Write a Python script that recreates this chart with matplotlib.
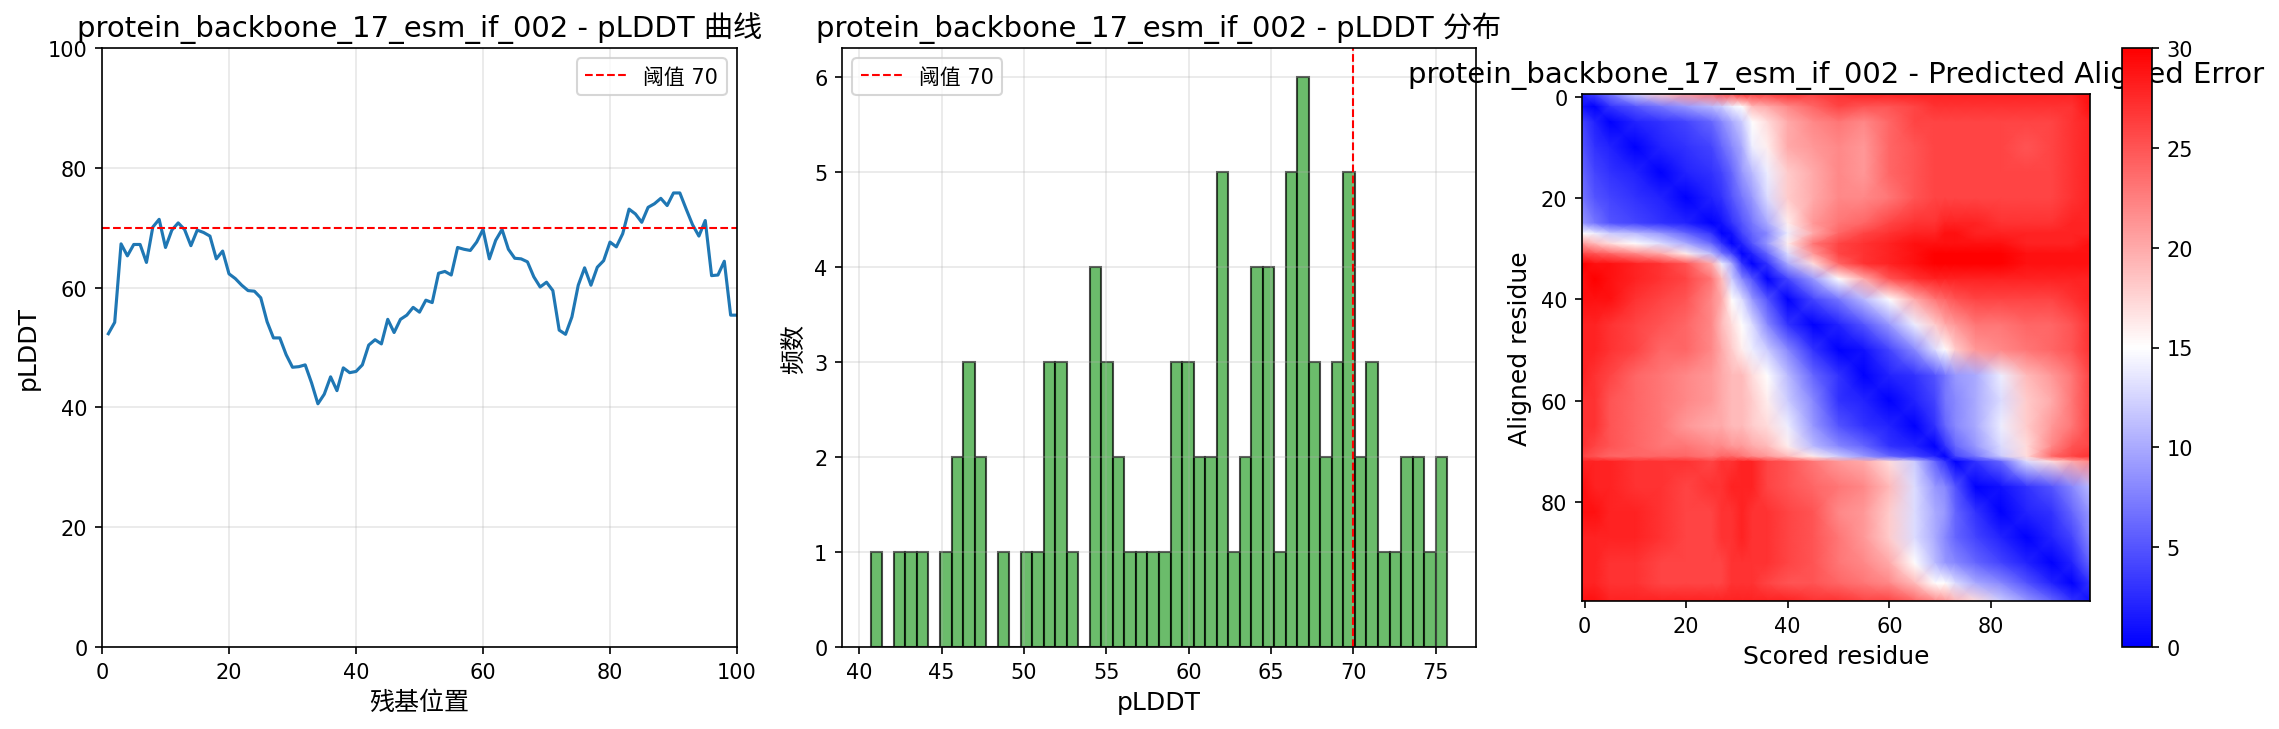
import matplotlib
matplotlib.use("Agg")
import matplotlib.pyplot as plt
import numpy as np

plt.rcParams['font.family'] = ['DejaVu Sans', 'Noto Sans CJK SC']

name = "protein_backbone_17_esm_if_002"
threshold = 70

# pLDDT per residue
residues = list(range(1, 101))
plddt = [52.3, 54.2, 67.3, 65.3, 67.2, 67.2, 64.2, 70.1, 71.4, 66.7,
         69.6, 70.8, 69.7, 67.0, 69.6, 69.2, 68.6, 64.8, 66.1, 62.3,
         61.5, 60.4, 59.5, 59.4, 58.3, 54.3, 51.6, 51.6, 48.8, 46.7,
         46.8, 47.1, 44.1, 40.6, 42.2, 45.1, 42.8, 46.6, 45.8, 46.0,
         47.1, 50.4, 51.3, 50.6, 54.7, 52.5, 54.7, 55.4, 56.7, 55.9,
         57.9, 57.5, 62.4, 62.7, 62.1, 66.7, 66.4, 66.2, 67.6, 69.7,
         64.8, 67.9, 69.7, 66.4, 64.9, 64.8, 64.3, 61.8, 60.1, 60.9,
         59.5, 52.9, 52.2, 55.1, 60.4, 63.3, 60.4, 63.4, 64.5, 67.6,
         66.8, 69.0, 73.1, 72.3, 70.9, 73.4, 74.0, 74.9, 73.7, 75.8,
         75.8, 73.1, 70.5, 68.6, 71.2, 62.0, 62.1, 64.4, 55.4, 55.4]

# histogram of the middle panel
hist_start = 40.7
hist_width = 0.7
hist_counts = [1, 0, 1, 1, 1, 0, 1, 2, 3, 2,
               0, 1, 0, 1, 1, 3, 3, 1, 0, 4,
               3, 2, 1, 1, 1, 1, 3, 3, 2, 2,
               5, 1, 2, 4, 4, 1, 5, 6, 3, 2,
               3, 5, 2, 3, 1, 1, 2, 2, 1, 2]

# PAE read at these residues, denser around the domain borders
pae_cols = [-0.5, 2, 5, 10, 15, 20, 25, 27, 29, 31, 33, 36, 40, 45,
            50, 55, 60, 65, 69, 71, 73, 77, 82, 87, 92, 96, 99.5]
pae_rows = [-0.5, 2, 5, 10, 15, 20, 25, 27, 29, 31, 33, 36, 40, 45,
            50, 55, 60, 65, 69, 71, 72, 77, 82, 87, 92, 96, 99.5]
pae = [
    [2, 4, 7, 12, 18, 21, 23, 25, 25, 27, 26, 26, 27, 26, 27, 28, 28, 28, 28, 28, 28, 28, 28, 28, 28, 28, 29],
    [1, 0, 3, 5, 7, 9, 11, 12, 14, 15, 19, 20, 22, 24, 26, 25, 25, 26, 27, 27, 27, 27, 27, 27, 27, 27, 29],
    [4, 2, 0, 2, 3, 4, 6, 8, 10, 12, 15, 17, 20, 22, 23, 22, 24, 26, 26, 26, 26, 26, 26, 26, 26, 27, 28],
    [5, 3, 2, 0, 2, 3, 4, 6, 8, 10, 14, 16, 20, 21, 22, 21, 24, 25, 26, 26, 26, 26, 26, 25, 26, 27, 28],
    [6, 4, 3, 2, 0, 2, 3, 4, 6, 9, 11, 14, 18, 20, 22, 21, 24, 25, 26, 26, 26, 26, 26, 26, 26, 27, 28],
    [7, 5, 4, 3, 2, 0, 2, 3, 5, 7, 9, 13, 18, 20, 22, 22, 23, 25, 26, 26, 26, 26, 26, 26, 26, 27, 28],
    [9, 7, 5, 4, 3, 2, 0, 1, 3, 5, 7, 10, 16, 21, 23, 24, 26, 27, 27, 28, 28, 28, 27, 27, 27, 28, 28],
    [15, 14, 12, 11, 9, 6, 3, 0, 1, 4, 6, 8, 14, 20, 24, 26, 27, 28, 28, 29, 29, 28, 28, 28, 28, 28, 28],
    [21, 19, 17, 15, 13, 10, 6, 3, 0, 2, 5, 9, 16, 23, 26, 27, 28, 29, 29, 29, 29, 29, 29, 28, 28, 28, 29],
    [26, 25, 24, 22, 20, 16, 11, 7, 4, 0, 2, 6, 13, 21, 26, 27, 28, 29, 30, 30, 30, 30, 30, 29, 29, 29, 29],
    [30, 29, 29, 28, 27, 25, 20, 14, 10, 3, 0, 3, 10, 17, 24, 27, 28, 29, 30, 30, 30, 30, 30, 29, 29, 29, 29],
    [29, 30, 29, 28, 27, 26, 23, 19, 12, 8, 5, 0, 4, 9, 15, 20, 25, 27, 28, 28, 28, 28, 28, 28, 28, 28, 28],
    [29, 29, 29, 27, 26, 25, 22, 20, 15, 13, 9, 5, 0, 4, 7, 11, 15, 20, 23, 24, 25, 26, 26, 26, 26, 27, 28],
    [28, 28, 27, 26, 25, 24, 22, 19, 17, 15, 13, 8, 3, 0, 2, 5, 9, 14, 18, 20, 21, 23, 23, 24, 24, 25, 27],
    [28, 28, 27, 26, 24, 24, 22, 20, 18, 16, 14, 12, 8, 3, 0, 1, 4, 8, 13, 15, 18, 21, 22, 23, 24, 25, 27],
    [28, 27, 26, 24, 23, 22, 21, 20, 19, 19, 17, 15, 11, 6, 3, 0, 2, 3, 5, 7, 9, 10, 14, 19, 21, 23, 26],
    [27, 27, 25, 24, 23, 22, 21, 20, 19, 19, 18, 16, 12, 8, 3, 2, 0, 2, 4, 7, 8, 10, 13, 18, 20, 23, 26],
    [27, 27, 25, 24, 23, 21, 20, 20, 19, 19, 18, 17, 14, 9, 5, 3, 2, 0, 3, 6, 8, 10, 14, 18, 21, 23, 26],
    [27, 26, 25, 24, 23, 23, 22, 22, 21, 21, 20, 19, 16, 11, 8, 6, 3, 2, 0, 3, 6, 9, 13, 17, 22, 25, 26],
    [26, 25, 24, 24, 24, 24, 23, 24, 24, 23, 22, 21, 19, 16, 12, 9, 6, 4, 2, 0, 4, 7, 12, 17, 24, 26, 27],
    [28, 28, 28, 27, 27, 27, 26, 27, 27, 28, 28, 26, 25, 23, 21, 20, 17, 12, 6, 3, 0, 3, 6, 13, 17, 20, 22],
    [29, 28, 28, 27, 27, 26, 27, 27, 28, 28, 28, 26, 25, 24, 23, 22, 19, 13, 9, 8, 5, 0, 1, 3, 5, 8, 11],
    [29, 29, 28, 28, 27, 26, 26, 27, 27, 28, 27, 27, 26, 25, 22, 21, 18, 13, 10, 9, 6, 3, 0, 2, 3, 6, 9],
    [28, 28, 28, 28, 27, 26, 26, 27, 27, 28, 27, 27, 26, 25, 23, 21, 18, 13, 10, 8, 6, 4, 2, 0, 2, 4, 8],
    [28, 28, 27, 27, 26, 26, 26, 26, 27, 27, 27, 27, 26, 25, 23, 22, 20, 15, 11, 9, 8, 6, 4, 2, 0, 2, 6],
    [28, 28, 27, 27, 26, 26, 26, 26, 27, 27, 27, 26, 25, 25, 24, 23, 22, 19, 15, 15, 13, 10, 8, 5, 2, 0, 3],
    [29, 29, 28, 28, 28, 28, 28, 28, 28, 28, 28, 28, 28, 27, 27, 26, 26, 24, 22, 21, 19, 17, 12, 9, 6, 3, 1],
]

W, H = 2279, 730
fig = plt.figure(figsize=(W / 150, H / 150), dpi=150)


def box(x0, y0, x1, y1):
    # pixel box (from top left) to figure fractions
    return [x0 / W, 1 - y1 / H, (x1 - x0) / W, (y1 - y0) / H]


# line plot
ax1 = fig.add_axes(box(102, 49, 737, 648))
ax1.plot(residues, plddt)
ax1.axhline(threshold, color="red", linestyle="--", linewidth=1, label="阈值 70")
ax1.set_xlim(0, 100)
ax1.set_ylim(0, 100)
ax1.set_xlabel("残基位置", fontsize=12)
ax1.set_ylabel("pLDDT", fontsize=12)
ax1.set_title(name + " - pLDDT 曲线", fontsize=14)
ax1.grid(True, alpha=0.3)
ax1.legend(loc="upper right")

# histogram
ax2 = fig.add_axes(box(842, 49, 1476, 648))
edges = hist_start + hist_width * np.arange(len(hist_counts))
ax2.bar(edges, hist_counts, width=hist_width, align="edge", color="tab:green",
        alpha=0.7, edgecolor="black")
ax2.axvline(threshold, color="red", linestyle="--", linewidth=1, label="阈值 70")
ax2.set_xlabel("pLDDT", fontsize=12)
ax2.set_ylabel("频数", fontsize=12)
ax2.set_title(name + " - pLDDT 分布", fontsize=14)
ax2.grid(True, alpha=0.3)
ax2.legend(loc="upper left")

# PAE heatmap
ax3 = fig.add_axes(box(1582, 95, 2090, 602))
mesh = ax3.pcolormesh(pae_cols, pae_rows, np.array(pae), cmap="bwr", vmin=0, vmax=30,
                      shading="gouraud")
ax3.set_xlim(-0.5, 99.5)
ax3.set_ylim(99.5, -0.5)
ax3.set_xticks(range(0, 100, 20))
ax3.set_yticks(range(0, 100, 20))
ax3.set_xlabel("Scored residue", fontsize=12)
ax3.set_ylabel("Aligned residue", fontsize=12)
ax3.set_title(name + " - Predicted Aligned Error", fontsize=14)

cax = fig.add_axes(box(2122, 49, 2152, 648))
fig.colorbar(mesh, cax=cax)

fig.savefig("out.png", dpi=150)
